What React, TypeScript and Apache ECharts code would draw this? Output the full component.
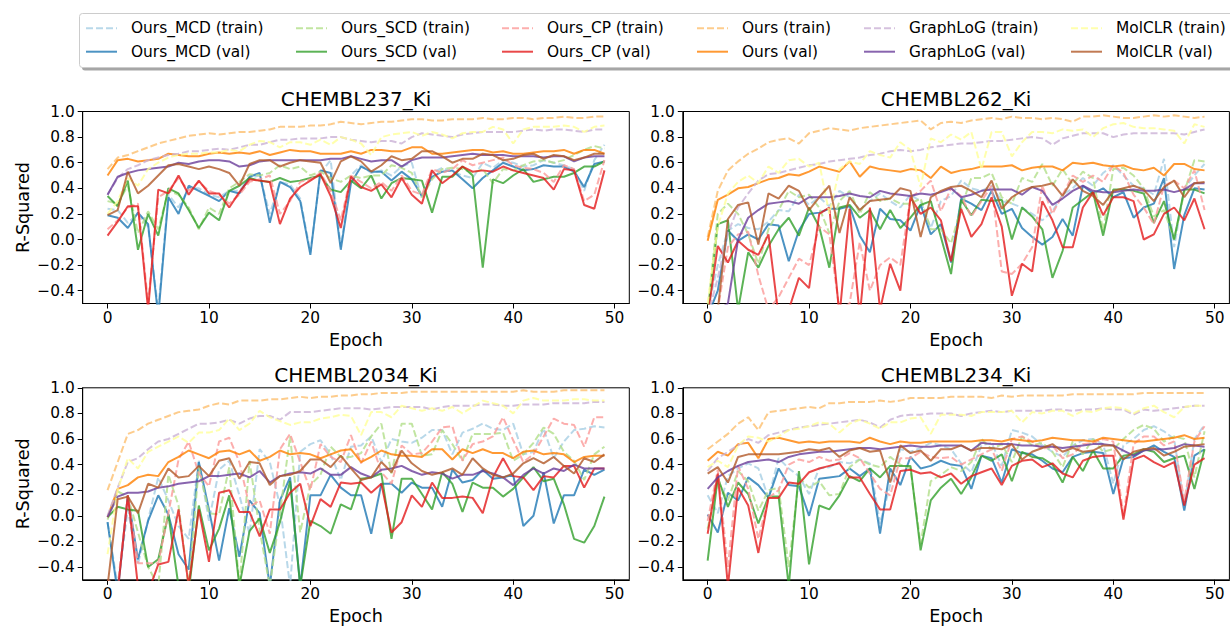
import React, { useEffect, useRef } from "react";
import * as echarts from "echarts";

// ---------- data ----------
const EPOCHS: number[] = Array.from({ length: 50 }, (_, i) => i);
const METHODS = ["Ours_MCD", "Ours_SCD", "Ours_CP", "Ours", "GraphLoG", "MolCLR"];
const TITLES = ["CHEMBL237_Ki", "CHEMBL262_Ki", "CHEMBL2034_Ki", "CHEMBL234_Ki"];
const X_TICKS = [0, 10, 20, 30, 40, 50];
const Y_TICKS = [-0.4, -0.2, 0, 0.2, 0.4, 0.6, 0.8, 1.0];

// CHEMBL237_Ki
const p1McdTrain = [0.24,0.23,0.13,0.20,0.10,-0.55,0.35,0.25,0.40,0.40,0.35,0.33,0.38,0.38,0.48,0.50,0.20,0.45,0.43,0.32,-0.10,0.52,0.62,-0.06,0.50,0.58,0.52,0.54,0.50,0.57,0.60,0.32,0.52,0.56,0.53,0.50,0.48,0.60,0.56,0.62,0.60,0.57,0.58,0.62,0.60,0.58,0.55,0.38,0.62,0.74];
const p1McdVal = [0.19,0.17,0.09,0.21,0.12,-0.60,0.33,0.20,0.42,0.38,0.34,0.30,0.38,0.36,0.49,0.52,0.13,0.45,0.41,0.30,-0.12,0.54,0.52,-0.08,0.44,0.57,0.53,0.53,0.46,0.53,0.47,0.34,0.49,0.53,0.54,0.47,0.40,0.48,0.54,0.60,0.57,0.54,0.55,0.58,0.57,0.57,0.53,0.41,0.59,0.61];
const p1ScdTrain = [0.30,0.28,0.42,0.05,0.22,0.08,0.38,0.35,0.25,0.08,0.25,0.20,0.40,0.45,0.51,0.50,0.52,0.58,0.55,0.57,0.50,0.53,0.48,0.45,0.50,0.48,0.50,0.50,0.58,0.56,0.52,0.33,0.47,0.55,0.56,0.55,0.52,0.55,0.44,0.55,0.54,0.58,0.61,0.62,0.60,0.62,0.66,0.70,0.73,0.71];
const p1ScdVal = [0.34,0.26,0.46,-0.08,0.20,0.03,0.40,0.36,0.23,0.09,0.21,0.15,0.38,0.42,0.48,0.46,0.45,0.48,0.45,0.46,0.48,0.50,0.39,0.37,0.46,0.40,0.50,0.32,0.44,0.48,0.47,0.46,0.21,0.49,0.49,0.57,0.50,-0.22,0.47,0.44,0.50,0.55,0.45,0.47,0.49,0.49,0.52,0.57,0.57,0.61];
const p1CpTrain = [0.08,0.15,0.25,0.28,-0.50,0.33,0.38,0.48,0.38,0.45,0.38,0.35,0.28,0.35,0.45,0.47,0.50,0.20,0.30,0.45,0.47,0.52,0.38,0.15,0.50,0.45,0.40,0.45,0.38,0.50,0.38,0.35,0.55,0.52,0.55,0.62,0.58,0.60,0.62,0.64,0.58,0.56,0.55,0.52,0.45,0.58,0.55,0.30,0.35,0.62];
const p1CpVal = [0.03,0.14,0.26,0.26,-0.55,0.39,0.36,0.50,0.35,0.46,0.36,0.36,0.25,0.37,0.47,0.46,0.45,0.12,0.32,0.41,0.46,0.51,0.34,0.09,0.49,0.41,0.38,0.43,0.33,0.48,0.35,0.28,0.54,0.44,0.50,0.57,0.53,0.54,0.53,0.57,0.54,0.52,0.50,0.48,0.39,0.55,0.54,0.27,0.24,0.54];
const p1OursTrain = [0.55,0.64,0.66,0.69,0.72,0.75,0.77,0.79,0.81,0.82,0.83,0.82,0.83,0.84,0.84,0.85,0.86,0.88,0.88,0.88,0.89,0.89,0.90,0.92,0.91,0.90,0.91,0.92,0.92,0.93,0.94,0.94,0.93,0.93,0.94,0.94,0.94,0.95,0.94,0.94,0.95,0.95,0.94,0.95,0.95,0.96,0.95,0.95,0.96,0.96];
const p1OursVal = [0.50,0.62,0.63,0.61,0.62,0.63,0.67,0.66,0.65,0.65,0.67,0.68,0.67,0.68,0.67,0.69,0.66,0.68,0.70,0.69,0.69,0.67,0.67,0.67,0.69,0.67,0.70,0.70,0.69,0.69,0.72,0.72,0.67,0.67,0.68,0.69,0.70,0.70,0.68,0.69,0.67,0.67,0.68,0.69,0.69,0.70,0.67,0.70,0.70,0.67];
const p1GraphTrain = [0.35,0.48,0.55,0.58,0.62,0.64,0.66,0.67,0.69,0.69,0.70,0.71,0.70,0.72,0.74,0.74,0.76,0.78,0.78,0.79,0.79,0.79,0.80,0.80,0.78,0.77,0.76,0.77,0.77,0.75,0.80,0.83,0.82,0.81,0.80,0.82,0.83,0.84,0.84,0.84,0.84,0.85,0.86,0.85,0.86,0.86,0.85,0.84,0.86,0.86];
const p1GraphVal = [0.35,0.49,0.52,0.54,0.55,0.56,0.57,0.60,0.59,0.61,0.62,0.62,0.61,0.57,0.58,0.61,0.62,0.62,0.62,0.62,0.62,0.62,0.63,0.63,0.65,0.63,0.61,0.62,0.62,0.57,0.62,0.64,0.64,0.64,0.65,0.66,0.67,0.66,0.66,0.66,0.65,0.65,0.65,0.64,0.65,0.65,0.61,0.64,0.65,0.65];
const p1MolTrain = [0.20,0.30,0.48,0.42,0.55,0.60,0.64,0.66,0.67,0.67,0.68,0.68,0.70,0.69,0.74,0.77,0.76,0.72,0.76,0.76,0.74,0.78,0.74,0.80,0.78,0.75,0.66,0.80,0.82,0.83,0.84,0.81,0.84,0.82,0.79,0.83,0.84,0.84,0.88,0.86,0.75,0.86,0.88,0.88,0.88,0.89,0.88,0.84,0.88,0.89];
const p1MolVal = [0.19,0.23,0.53,0.36,0.42,0.50,0.58,0.59,0.57,0.55,0.57,0.55,0.52,0.42,0.59,0.62,0.62,0.57,0.60,0.62,0.61,0.60,0.44,0.61,0.65,0.61,0.53,0.58,0.65,0.62,0.63,0.69,0.69,0.65,0.60,0.63,0.63,0.67,0.66,0.62,0.63,0.66,0.67,0.63,0.66,0.65,0.62,0.64,0.67,0.67];

// CHEMBL262_Ki
const p2McdTrain = [-0.55,-0.20,0.07,0.12,0.09,0.08,0.14,0.23,0.22,0.35,0.27,0.33,0.26,0.38,0.33,0.23,0.30,0.36,0.30,0.25,0.35,0.30,0.09,0.30,0.34,0.46,0.40,0.38,0.42,0.30,0.28,0.25,0.20,0.15,0.22,0.35,0.40,0.48,0.42,0.52,0.58,0.50,0.42,0.40,0.35,0.63,-0.06,0.40,0.50,0.59];
const p2McdVal = [-0.60,-0.40,0.07,-0.01,0.04,0.00,0.12,0.11,-0.17,0.07,0.20,0.21,0.24,0.24,0.26,0.03,-0.10,0.24,0.16,0.15,0.07,0.27,0.04,0.12,-0.18,0.32,0.28,0.23,0.38,0.20,0.24,0.09,0.02,-0.04,0.02,0.16,0.03,0.42,0.36,0.40,0.33,0.37,0.17,0.25,0.28,0.48,-0.23,0.19,0.40,0.39];
const p2ScdTrain = [-0.55,0.20,0.28,0.20,0.04,-0.19,0.08,0.23,0.38,0.33,0.35,0.25,0.05,0.30,0.38,0.20,0.37,0.30,0.32,0.28,0.28,0.32,0.08,0.08,-0.03,0.25,0.48,0.48,0.52,0.33,0.28,0.48,0.45,0.59,0.42,0.55,0.43,0.53,0.48,0.07,0.55,0.56,0.50,0.40,0.18,0.23,0.00,0.37,0.62,0.61];
const p2ScdVal = [-0.60,0.12,0.15,-0.55,-0.10,-0.22,-0.05,0.08,0.17,0.03,0.25,0.10,-0.22,0.25,0.27,0.17,0.23,0.08,0.23,0.09,0.17,0.27,0.30,0.02,-0.27,0.31,0.19,0.31,0.30,0.31,0.00,0.25,0.18,0.08,-0.30,-0.09,0.25,0.31,0.37,0.03,0.39,0.39,0.38,0.36,0.13,0.30,0.00,0.39,0.39,0.36];
const p2CpTrain = [-0.60,-0.55,-0.06,0.04,0.06,-0.28,-0.55,-0.45,-0.30,-0.15,-0.20,0.10,0.04,-0.55,-0.50,-0.02,-0.40,-0.20,-0.14,-0.20,0.33,0.38,0.46,0.22,0.40,0.34,0.18,0.30,0.42,-0.25,-0.27,-0.19,-0.06,0.42,0.20,0.35,0.50,0.45,0.50,0.45,0.58,0.52,0.35,0.25,0.12,0.42,0.46,0.40,0.54,0.23];
const p2CpVal = [-0.60,-0.05,-0.18,-0.01,-0.08,-0.12,0.04,-0.60,-0.55,-0.30,-0.38,0.20,0.25,-0.60,0.24,-0.60,0.25,-0.55,-0.19,-0.40,0.33,0.20,0.25,0.15,-0.17,0.24,0.02,0.12,0.33,0.10,-0.44,-0.19,-0.25,0.30,0.15,-0.06,-0.06,0.25,0.37,0.19,0.33,0.33,0.30,0.00,0.04,0.20,0.25,0.15,0.32,0.08];
const p2OursTrain = [0.02,0.38,0.54,0.61,0.67,0.71,0.76,0.78,0.79,0.75,0.83,0.85,0.87,0.86,0.85,0.87,0.88,0.89,0.90,0.91,0.92,0.93,0.86,0.91,0.92,0.91,0.93,0.94,0.95,0.94,0.96,0.95,0.95,0.94,0.95,0.94,0.92,0.96,0.96,0.97,0.96,0.95,0.95,0.96,0.97,0.96,0.97,0.96,0.95,0.96];
const p2OursVal = [-0.01,0.31,0.35,0.40,0.41,0.44,0.47,0.48,0.51,0.50,0.53,0.57,0.55,0.53,0.61,0.49,0.57,0.55,0.54,0.53,0.55,0.54,0.48,0.57,0.52,0.54,0.55,0.57,0.57,0.57,0.58,0.54,0.56,0.57,0.57,0.54,0.60,0.59,0.60,0.58,0.57,0.58,0.55,0.54,0.56,0.50,0.59,0.59,0.55,0.54];
const p2GraphTrain = [-0.60,-0.30,0.05,0.25,0.36,0.46,0.51,0.52,0.54,0.56,0.58,0.59,0.61,0.62,0.63,0.64,0.66,0.67,0.69,0.70,0.69,0.70,0.72,0.73,0.74,0.75,0.75,0.76,0.77,0.77,0.78,0.79,0.80,0.79,0.74,0.79,0.81,0.83,0.83,0.83,0.80,0.82,0.83,0.83,0.83,0.83,0.83,0.82,0.84,0.86];
const p2GraphVal = [-0.60,-0.55,-0.50,0.00,0.17,0.23,0.28,0.29,0.30,0.28,0.33,0.33,0.33,0.34,0.36,0.34,0.33,0.38,0.36,0.35,0.34,0.36,0.35,0.37,0.40,0.33,0.35,0.38,0.39,0.39,0.39,0.35,0.41,0.38,0.27,0.32,0.38,0.42,0.38,0.37,0.37,0.38,0.39,0.38,0.38,0.39,0.37,0.39,0.44,0.44];
const p2MolTrain = [-0.50,0.10,0.36,0.45,0.50,0.44,0.57,0.52,0.62,0.63,0.57,0.60,0.20,0.55,0.61,0.59,0.69,0.66,0.64,0.76,0.70,0.41,0.79,0.76,0.82,0.78,0.84,0.55,0.84,0.84,0.65,0.76,0.84,0.84,0.83,0.86,0.85,0.86,0.80,0.87,0.90,0.91,0.88,0.87,0.87,0.86,0.85,0.75,0.90,0.88];
const p2MolVal = [-0.60,-0.55,0.16,0.27,0.29,-0.04,0.36,0.32,0.42,0.38,0.23,0.33,0.42,0.05,0.33,0.23,0.30,0.31,0.32,0.40,0.38,0.02,0.33,0.38,0.41,0.42,0.38,0.33,0.46,0.24,0.33,0.38,0.41,0.42,0.44,0.34,0.47,0.38,0.34,0.27,0.38,0.40,0.42,0.39,0.30,0.41,0.46,0.33,0.44,0.45];

// CHEMBL2034_Ki
const p3McdTrain = [-0.05,-0.55,0.05,-0.38,-0.03,0.30,0.12,-0.08,-0.18,0.43,-0.04,0.36,0.43,0.16,-0.14,0.52,0.42,0.08,-0.55,0.50,0.56,0.59,0.48,0.28,0.54,0.55,0.62,0.42,0.60,0.58,0.57,0.61,0.67,0.67,0.48,0.65,0.68,0.72,0.68,0.67,0.72,0.48,0.50,0.68,0.45,0.58,0.67,0.68,0.70,0.69];
const p3McdVal = [-0.05,-0.60,0.16,-0.34,-0.04,0.16,0.01,-0.30,-0.42,0.42,0.05,-0.35,0.06,-0.32,0.12,0.02,-0.55,0.12,0.30,-0.55,0.16,0.16,0.32,0.22,0.16,0.16,-0.14,0.25,0.25,0.18,0.26,0.22,0.22,0.07,0.36,0.26,0.28,0.36,0.29,0.30,0.32,-0.08,0.00,0.34,-0.06,0.16,0.16,0.36,0.32,0.36];
const p3ScdTrain = [-0.03,0.19,0.15,-0.13,-0.40,-0.55,0.32,0.08,-0.55,0.38,0.02,0.01,0.38,-0.55,0.43,-0.11,-0.55,0.02,0.62,-0.13,0.24,0.32,0.54,0.46,0.46,0.49,0.62,0.72,0.33,0.72,0.72,0.47,0.48,0.67,0.56,0.43,0.64,0.64,0.64,0.65,0.43,0.48,0.57,0.69,0.64,0.50,0.43,0.28,0.48,0.54];
const p3ScdVal = [-0.01,0.07,0.05,0.04,-0.40,-0.34,0.01,-0.55,-0.60,0.08,-0.27,-0.10,0.16,-0.55,-0.12,-0.02,-0.29,-0.05,0.27,-0.55,-0.04,-0.08,-0.14,0.09,0.05,0.29,0.30,0.33,-0.18,0.29,0.29,0.17,0.05,0.34,0.25,0.03,0.26,0.22,0.22,0.15,0.21,0.30,0.38,0.27,0.29,0.09,-0.18,-0.21,-0.08,0.15];
const p3CpTrain = [-0.50,-0.55,0.16,-0.37,-0.37,-0.37,0.02,0.44,0.58,0.33,0.23,0.58,0.61,0.42,0.07,0.12,-0.14,0.52,0.64,0.42,0.20,0.56,0.46,0.42,0.63,0.41,0.58,0.34,0.25,0.55,0.48,0.49,0.58,0.69,0.70,0.43,0.56,0.58,0.62,0.77,0.59,0.42,0.48,0.62,0.76,0.72,0.71,0.54,0.77,0.77];
const p3CpVal = [-0.55,-0.60,0.16,-0.55,-0.60,-0.38,-0.36,0.05,-0.55,0.05,-0.36,0.18,0.20,0.03,0.03,-0.16,0.05,0.05,0.18,0.25,-0.08,0.13,0.07,0.26,0.25,0.26,0.18,0.25,-0.13,-0.05,0.16,0.07,0.26,0.14,0.14,0.15,0.14,0.02,0.30,0.45,0.31,0.30,0.20,0.31,0.30,0.39,0.39,0.22,0.37,0.37];
const p3OursTrain = [0.20,0.42,0.64,0.67,0.72,0.75,0.78,0.81,0.82,0.83,0.86,0.88,0.87,0.90,0.90,0.90,0.91,0.91,0.92,0.93,0.92,0.93,0.93,0.94,0.94,0.95,0.95,0.96,0.96,0.96,0.97,0.97,0.97,0.97,0.97,0.97,0.97,0.97,0.97,0.97,0.97,0.98,0.97,0.97,0.97,0.98,0.98,0.98,0.98,0.98];
const p3OursVal = [-0.01,0.21,0.24,0.30,0.32,0.31,0.42,0.46,0.51,0.48,0.45,0.50,0.51,0.48,0.51,0.43,0.46,0.51,0.48,0.49,0.48,0.45,0.48,0.51,0.52,0.42,0.46,0.51,0.48,0.47,0.47,0.46,0.52,0.52,0.44,0.52,0.49,0.52,0.49,0.49,0.45,0.50,0.51,0.48,0.49,0.48,0.42,0.46,0.47,0.47];
const p3GraphTrain = [0.00,0.22,0.42,0.45,0.52,0.58,0.60,0.64,0.68,0.72,0.72,0.73,0.75,0.72,0.76,0.78,0.78,0.75,0.81,0.81,0.81,0.82,0.83,0.84,0.84,0.84,0.83,0.84,0.85,0.85,0.85,0.85,0.83,0.85,0.86,0.86,0.86,0.87,0.87,0.86,0.86,0.87,0.87,0.87,0.88,0.88,0.88,0.88,0.89,0.89];
const p3GraphVal = [-0.01,0.15,0.18,0.18,0.19,0.22,0.23,0.25,0.26,0.27,0.31,0.31,0.32,0.33,0.30,0.35,0.26,0.31,0.33,0.34,0.33,0.37,0.32,0.32,0.38,0.33,0.30,0.36,0.37,0.39,0.35,0.32,0.34,0.33,0.29,0.32,0.32,0.35,0.33,0.30,0.24,0.32,0.37,0.33,0.37,0.35,0.40,0.37,0.37,0.37];
const p3MolTrain = [-0.30,0.20,0.45,0.37,0.50,0.54,0.58,0.62,0.57,0.65,0.65,0.67,0.76,0.67,0.72,0.82,0.77,0.74,0.71,0.73,0.73,0.76,0.77,0.79,0.78,0.63,0.81,0.81,0.77,0.86,0.84,0.82,0.84,0.82,0.85,0.80,0.85,0.90,0.88,0.86,0.80,0.90,0.92,0.90,0.90,0.90,0.91,0.91,0.90,0.90];
const p3MolVal = [-0.55,0.13,0.15,0.02,0.25,0.22,0.37,0.30,0.31,0.39,0.31,0.43,0.45,0.29,0.42,0.41,0.24,0.31,0.32,0.35,0.44,0.44,0.38,0.47,0.37,0.28,0.30,0.42,0.34,0.51,0.41,0.35,0.32,0.34,0.37,0.32,0.45,0.37,0.32,0.30,0.33,0.41,0.45,0.41,0.46,0.39,0.33,0.45,0.42,0.48];

// CHEMBL234_Ki
const p4McdTrain = [0.16,0.02,0.31,0.37,0.41,0.37,0.14,0.45,0.37,0.31,0.17,0.37,0.38,0.42,0.41,0.44,0.41,-0.06,0.24,0.52,0.50,0.53,0.57,0.55,0.52,0.41,0.34,0.55,0.57,0.39,0.67,0.65,0.62,0.55,0.50,0.46,0.55,0.59,0.60,0.56,0.25,0.55,0.60,0.67,0.70,0.66,0.60,0.08,0.60,0.71];
const p4McdVal = [0.01,-0.13,0.18,0.12,0.30,0.24,0.14,0.37,0.24,0.23,0.00,0.29,0.30,0.31,0.37,0.31,0.37,-0.14,0.37,0.24,0.46,0.37,0.39,0.43,0.40,0.39,0.21,0.47,0.45,0.26,0.52,0.49,0.48,0.43,0.37,0.34,0.46,0.49,0.50,0.49,0.17,0.45,0.46,0.51,0.55,0.50,0.46,0.04,0.47,0.52];
const p4ScdTrain = [-0.10,0.27,0.12,0.35,0.27,0.04,0.20,0.22,-0.40,0.30,0.22,0.27,0.16,0.17,0.38,0.44,0.40,0.38,0.46,0.40,0.37,-0.22,0.27,0.32,0.38,0.35,0.42,0.60,0.52,0.56,0.42,0.62,0.55,0.57,0.50,0.38,0.58,0.48,0.60,0.50,0.52,0.60,0.67,0.71,0.68,0.58,0.62,0.60,0.30,0.66];
const p4ScdVal = [-0.35,0.30,0.07,0.26,0.17,-0.06,0.15,0.15,-0.55,0.35,-0.38,0.08,0.05,0.16,0.31,0.27,0.37,0.30,0.39,0.39,0.39,-0.27,0.12,0.22,0.29,0.17,0.30,0.47,0.43,0.48,0.27,0.50,0.46,0.45,0.40,0.26,0.46,0.35,0.51,0.37,0.37,0.47,0.48,0.52,0.50,0.42,0.45,0.47,0.21,0.52];
const p4CpTrain = [-0.04,0.36,-0.40,0.39,0.21,-0.18,0.14,0.20,0.40,0.44,0.42,0.46,0.43,0.44,0.49,0.45,0.33,0.21,0.16,0.45,0.45,0.50,0.46,0.45,0.46,0.40,0.44,0.48,0.52,0.35,0.60,0.62,0.58,0.52,0.55,0.45,0.48,0.56,0.57,0.60,0.58,0.00,0.56,0.62,0.62,0.55,0.58,0.12,0.58,0.70];
const p4CpVal = [-0.14,0.33,-0.55,0.22,0.08,-0.29,0.14,0.14,0.26,0.25,0.34,0.37,0.39,0.41,0.30,0.30,0.17,0.05,0.05,0.35,0.36,0.33,0.34,0.30,0.33,0.25,0.31,0.34,0.37,0.24,0.39,0.43,0.44,0.38,0.41,0.33,0.30,0.43,0.46,0.47,0.47,-0.03,0.44,0.47,0.42,0.38,0.42,0.08,0.40,0.45];
const p4OursTrain = [0.52,0.58,0.64,0.72,0.77,0.67,0.81,0.82,0.83,0.84,0.85,0.84,0.88,0.88,0.89,0.89,0.89,0.90,0.89,0.90,0.92,0.92,0.92,0.92,0.93,0.93,0.93,0.93,0.92,0.94,0.93,0.94,0.94,0.94,0.94,0.94,0.95,0.95,0.95,0.95,0.95,0.95,0.95,0.96,0.96,0.96,0.96,0.96,0.96,0.96];
const p4OursVal = [0.43,0.50,0.47,0.56,0.57,0.45,0.60,0.61,0.59,0.57,0.58,0.57,0.58,0.58,0.58,0.57,0.61,0.58,0.56,0.58,0.57,0.57,0.58,0.58,0.58,0.58,0.58,0.59,0.59,0.58,0.60,0.59,0.58,0.59,0.61,0.60,0.59,0.59,0.58,0.61,0.60,0.59,0.58,0.58,0.59,0.60,0.61,0.63,0.60,0.61];
const p4GraphTrain = [0.35,0.45,0.50,0.55,0.60,0.57,0.63,0.65,0.67,0.69,0.70,0.71,0.72,0.73,0.74,0.75,0.73,0.69,0.75,0.78,0.79,0.79,0.80,0.80,0.80,0.78,0.80,0.81,0.82,0.81,0.82,0.82,0.82,0.82,0.83,0.83,0.82,0.83,0.83,0.84,0.83,0.83,0.79,0.83,0.82,0.83,0.84,0.85,0.86,0.86];
const p4GraphVal = [0.21,0.30,0.35,0.39,0.42,0.43,0.44,0.42,0.46,0.48,0.49,0.50,0.50,0.51,0.52,0.53,0.53,0.52,0.53,0.54,0.55,0.54,0.54,0.55,0.55,0.55,0.51,0.57,0.56,0.56,0.56,0.55,0.55,0.54,0.54,0.53,0.54,0.55,0.56,0.56,0.55,0.51,0.47,0.51,0.52,0.52,0.53,0.56,0.55,0.54];
const p4MolTrain = [0.38,0.43,0.38,0.55,0.62,0.61,0.58,0.62,0.67,0.68,0.70,0.73,0.72,0.65,0.72,0.75,0.72,0.68,0.73,0.73,0.76,0.77,0.64,0.79,0.79,0.79,0.78,0.81,0.81,0.81,0.82,0.73,0.81,0.80,0.82,0.82,0.78,0.82,0.81,0.84,0.85,0.84,0.80,0.84,0.86,0.81,0.77,0.85,0.86,0.86];
const p4MolVal = [0.33,0.38,0.26,0.46,0.48,0.48,0.48,0.48,0.49,0.50,0.52,0.51,0.53,0.46,0.51,0.53,0.50,0.51,0.26,0.55,0.49,0.51,0.43,0.52,0.52,0.55,0.51,0.53,0.53,0.52,0.56,0.44,0.50,0.53,0.56,0.50,0.53,0.50,0.51,0.55,0.55,0.44,0.50,0.52,0.53,0.47,0.50,0.54,0.55,0.56];

// [method][train, val] per panel
const PANELS: number[][][][] = [
  [[p1McdTrain, p1McdVal], [p1ScdTrain, p1ScdVal], [p1CpTrain, p1CpVal], [p1OursTrain, p1OursVal], [p1GraphTrain, p1GraphVal], [p1MolTrain, p1MolVal]],
  [[p2McdTrain, p2McdVal], [p2ScdTrain, p2ScdVal], [p2CpTrain, p2CpVal], [p2OursTrain, p2OursVal], [p2GraphTrain, p2GraphVal], [p2MolTrain, p2MolVal]],
  [[p3McdTrain, p3McdVal], [p3ScdTrain, p3ScdVal], [p3CpTrain, p3CpVal], [p3OursTrain, p3OursVal], [p3GraphTrain, p3GraphVal], [p3MolTrain, p3MolVal]],
  [[p4McdTrain, p4McdVal], [p4ScdTrain, p4ScdVal], [p4CpTrain, p4CpVal], [p4OursTrain, p4OursVal], [p4GraphTrain, p4GraphVal], [p4MolTrain, p4MolVal]],
];

// ---------- styles / layout ----------
const TRAIN_COLORS = ["#a6cee3", "#b2df8a", "#fb9a99", "#fdbf6f", "#cab2d6", "#ffff99"];
const VAL_COLORS = ["#1f78b4", "#33a02c", "#e31a1c", "#ff7f00", "#6a3d9a", "#b15928"];
const FONT = "DejaVu Sans";
const GRIDS = [
  { left: 82.7, top: 111.5, width: 546.6, height: 192 },
  { left: 682.8, top: 111.5, width: 546.6, height: 192 },
  { left: 82.7, top: 387.8, width: 546.6, height: 192 },
  { left: 682.8, top: 387.8, width: 546.6, height: 192 },
];
const LEGEND_X = [85, 295, 501, 696, 863, 1070];

function fmtY(v: number): string {
  const s = Math.abs(v).toFixed(1);
  return v < -1e-9 ? "\u2212" + s : s;
}

export default function App() {
  const ref = useRef<HTMLDivElement>(null);
  useEffect(() => {
    const chart = echarts.init(ref.current!, null, { renderer: "svg" });
    const series: any[] = [];
    PANELS.forEach((panel, pi) => {
      panel.forEach((pair, mi) => {
        ["train", "val"].forEach((kind, k) => {
          const arr = pair[k];
          series.push({
            type: "line",
            name: `${METHODS[mi]} (${kind})`,
            xAxisIndex: pi,
            yAxisIndex: pi,
            data: EPOCHS.map((e, i) => [e, arr[i]]),
            symbol: "none",
            showSymbol: false,
            clip: true,
            silent: true,
            lineStyle: {
              width: 2,
              color: k === 0 ? TRAIN_COLORS[mi] : VAL_COLORS[mi],
              opacity: 0.8,
              type: k === 0 ? [7, 3] : "solid",
            },
            itemStyle: { color: k === 0 ? TRAIN_COLORS[mi] : VAL_COLORS[mi], opacity: 0.8 },
          });
        });
      });
    });

    const option: any = {
      animation: false,
      backgroundColor: "#fff",
      textStyle: { fontFamily: FONT },
      grid: GRIDS.map((g) => ({ ...g, show: true, borderColor: "#000", borderWidth: 1, containLabel: false })),
      xAxis: GRIDS.map((_, i) => ({
        gridIndex: i,
        type: "value",
        min: -2.45,
        max: 51.45,
        splitLine: { show: false },
        axisLine: { show: true, onZero: false, lineStyle: { color: "#000", width: 1 } },
        axisTick: { show: true, length: 5, customValues: X_TICKS, lineStyle: { color: "#000" } },
        axisLabel: { customValues: X_TICKS, color: "#000", fontSize: 15.4, fontFamily: FONT, margin: 7 },
        name: "Epoch",
        nameLocation: "middle",
        nameGap: 27,
        nameTextStyle: { fontSize: 17.6, fontFamily: FONT, color: "#000" },
      })),
      yAxis: GRIDS.map((_, i) => ({
        gridIndex: i,
        type: "value",
        min: -0.5,
        max: 1.0,
        splitLine: { show: false },
        axisLine: { show: true, onZero: false, lineStyle: { color: "#000", width: 1 } },
        axisTick: { show: true, length: 5, customValues: Y_TICKS, lineStyle: { color: "#000" } },
        axisLabel: { customValues: Y_TICKS, color: "#000", fontSize: 15.4, fontFamily: FONT, margin: 8, formatter: (v: number) => fmtY(v) },
        name: i % 2 === 0 ? "R-Squared" : "",
        nameLocation: "middle",
        nameGap: 51,
        nameTextStyle: { fontSize: 17.6, fontFamily: FONT, color: "#000" },
      })),
      legend: METHODS.map((m, i) => ({
        orient: "vertical",
        left: LEGEND_X[i],
        top: 20.3,
        itemWidth: 31,
        itemHeight: 16,
        itemGap: 7.4,
        padding: 0,
        selectedMode: false,
        itemStyle: { opacity: 0, borderWidth: 0 },
        data: [`${m} (train)`, `${m} (val)`],
        textStyle: { fontSize: 15.4, lineHeight: 16, fontFamily: FONT, color: "#000", padding: [0, 0, 0, 9] },
      })),
      graphic: [
        { type: "rect", z: 0, shape: { x: 82, y: 16.5, width: 1160, height: 54, r: 3 }, style: { fill: "rgba(0,0,0,0.35)" } },
        { type: "rect", z: 1, shape: { x: 79.5, y: 13.5, width: 1160, height: 54, r: 3 }, style: { fill: "#fff", stroke: "#cccccc", lineWidth: 1 } },
        ...TITLES.map((t, i) => ({
          type: "text",
          z: 5,
          x: GRIDS[i].left + GRIDS[i].width / 2,
          y: GRIDS[i].top - 13,
          style: { text: t, fontSize: 20, fontFamily: FONT, fill: "#000", align: "center", verticalAlign: "middle", textAlign: "center", textVerticalAlign: "middle" },
        })),
      ],
      series,
    };
    chart.setOption(option);
    return () => chart.dispose();
  }, []);
  return <div ref={ref} style={{ position: "absolute", left: 0, top: 0, width: 1230, height: 627, background: "#fff" }} />;
}
